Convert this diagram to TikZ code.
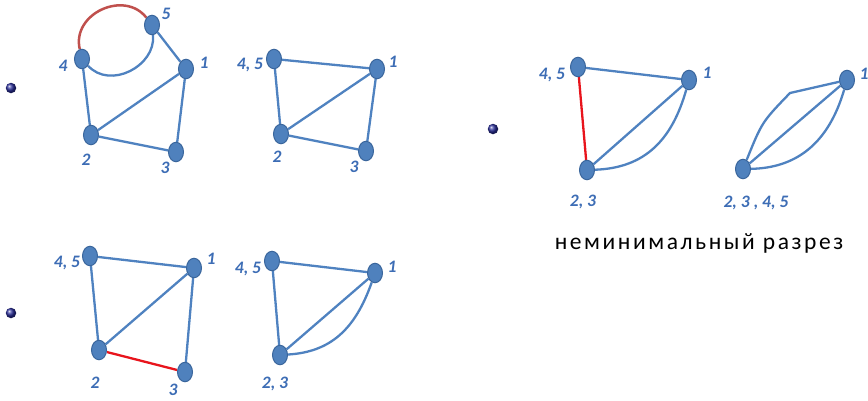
\documentclass[tikz,border=0pt]{standalone}
\usepackage{fontspec}
\setmainfont{Carlito}
\usetikzlibrary{positioning,shapes.geometric,backgrounds}

\definecolor{vfill}{HTML}{4F81BD}
\definecolor{vborder}{HTML}{3A669C}
\definecolor{vedge}{HTML}{4F82C0}
\definecolor{vlabel}{HTML}{3D6DB5}
\definecolor{arcred}{HTML}{C0504D}
\definecolor{cutred}{HTML}{E8141C}
\definecolor{dotblue}{HTML}{2A2E9A}

\begin{document}
\begin{tikzpicture}[
    x=1pt,y=-1pt,
    vertex/.style={ellipse,draw=vborder,fill=vfill,line width=1pt,minimum width=15pt,minimum height=19.5pt,inner sep=0pt},
    num/.style={font=\fontsize{17.5}{18}\selectfont\bfseries\itshape,text=vlabel,inner sep=0pt},
    edge/.style={draw=vedge,line width=2.3pt},
    arcedge/.style={draw=arcred,line width=2.5pt},
    cutedge/.style={draw=cutred,line width=2.3pt},
    bullet/.style={circle,inner sep=0pt,minimum size=10.5pt,ball color=dotblue},
  ]
    \useasboundingbox (0,0) rectangle (868,400);

    % bullets
    \node[bullet] (dot1) at (11,88) {};
    \node[bullet] (dot2) at (493,129) {};
    \node[bullet] (dot3) at (11,313) {};

    % graph with five vertices
    \node[vertex] (a5) at (152,25) {};
    \node[vertex] (a4) at (82,59) {};
    \node[vertex] (a1) at (186,69) {};
    \node[vertex] (a2) at (91,135) {};
    \node[vertex] (a3) at (176,152) {};
    \node[num] (la5) at (166,14) {5};
    \node[num] (la4) at (63,66) {4};
    \node[num] (la1) at (204,63) {1};
    \node[num] (la2) at (86,160) {2};
    \node[num] (la3) at (165,168) {3};

    % 4 and 5 merged
    \node[vertex] (b45) at (274,59) {};
    \node[vertex] (b1) at (377,69) {};
    \node[vertex] (b2) at (281,134) {};
    \node[vertex] (b3) at (366,151) {};
    \node[num] (lb45) at (250,65) {4, 5};
    \node[num] (lb1) at (393,62) {1};
    \node[num] (lb2) at (277,157) {2};
    \node[num] (lb3) at (354,167) {3};

    % 2 and 3 merged
    \node[vertex] (c45) at (578,67) {};
    \node[vertex] (c1) at (689,80) {};
    \node[vertex] (c23) at (587,170) {};
    \node[num] (lc45) at (552,75) {4, 5};
    \node[num] (lc1) at (707,73) {1};
    \node[num] (lc23) at (583,202) {2, 3};

    % two vertices left
    \node[vertex] (d1) at (847,80) {};
    \node[vertex] (d2345) at (743,169) {};
    \coordinate (dkink) at (790,93);
    \node[num] (ld1) at (864,74) {1};
    \node[num] (ld2345) at (756,203) {2, 3 , 4, 5};

    \node[font=\fontsize{23.5}{24}\selectfont\addfontfeatures{LetterSpace=11},anchor=base,inner sep=0pt] (caption) at (699,249) {неминимальный разрез};

    % other order
    \node[vertex] (e45) at (90,256) {};
    \node[vertex] (e1) at (194,268) {};
    \node[vertex] (e2) at (99,350) {};
    \node[vertex] (e3) at (185,372) {};
    \node[num] (le45) at (67,263) {4, 5};
    \node[num] (le1) at (211,259) {1};
    \node[num] (le2) at (95,383) {2};
    \node[num] (le3) at (173,390) {3};

    \node[vertex] (f45) at (272,261) {};
    \node[vertex] (f1) at (375,273) {};
    \node[vertex] (f23) at (280,355) {};
    \node[num] (lf45) at (248,269) {4, 5};
    \node[num] (lf1) at (392,267) {1};
    \node[num] (lf23) at (275,384) {2, 3};

    \begin{scope}[on background layer]
      \draw[arcedge] (a4) .. controls (71.5,13.3) and (124.8,-10.4) .. (a5);
      \draw[edge] (a4) .. controls (110,90) and (156,66) .. (a5);
      \draw[edge] (a5) -- (a1);
      \draw[edge] (a4) -- (a2);
      \draw[edge] (a2) -- (a1);
      \draw[edge] (a2) -- (a3);
      \draw[edge] (a1) -- (a3);

      \draw[edge] (b45) -- (b1);
      \draw[edge] (b45) -- (b2);
      \draw[edge] (b2) -- (b1);
      \draw[edge] (b2) -- (b3);
      \draw[edge] (b1) -- (b3);

      \draw[cutedge] (c45) -- (c23);
      \draw[edge] (c45) -- (c1);
      \draw[edge] (c23) -- (c1);
      \draw[edge] (c23) .. controls (645,168) and (672,140) .. (c1);

      \draw[edge] (d2345) .. controls (762,122) .. (dkink) -- (d1);
      \draw[edge] (d2345) -- (d1);
      \draw[edge] (d2345) .. controls (795,168) and (828,145) .. (d1);

      \draw[edge] (e45) -- (e1);
      \draw[edge] (e45) -- (e2);
      \draw[edge] (e2) -- (e1);
      \draw[cutedge] (e2) -- (e3);
      \draw[edge] (e1) -- (e3);

      \draw[edge] (f45) -- (f1);
      \draw[edge] (f45) -- (f23);
      \draw[edge] (f23) -- (f1);
      \draw[edge] (f23) .. controls (330,352) and (355,330) .. (f1);
    \end{scope}
  \end{tikzpicture}
\end{document}
